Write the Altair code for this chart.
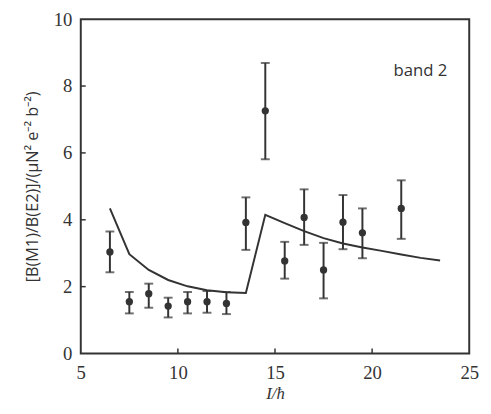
import altair as alt
import pandas as pd

# experimental points
spin = [6.5, 7.5, 8.5, 9.5, 10.5, 11.5, 12.5, 13.5, 14.5, 15.5, 16.5, 17.5, 18.5, 19.5, 21.5]
ratio = [3.04, 1.55, 1.79, 1.42, 1.55, 1.55, 1.50, 3.92, 7.26, 2.77, 4.07, 2.50, 3.93, 3.61, 4.34]
err_hi = [3.65, 1.84, 2.09, 1.67, 1.84, 1.87, 1.84, 4.67, 8.69, 3.34, 4.91, 3.31, 4.74, 4.34, 5.18]
err_lo = [2.43, 1.20, 1.37, 1.08, 1.20, 1.22, 1.18, 3.10, 5.81, 2.24, 3.25, 1.65, 3.12, 2.85, 3.43]

# theoretical curve
th_spin = [6.5, 7.5, 8.5, 9.5, 10.5, 11.5, 12.5, 13.5, 14.5, 15.5, 16.5, 17.5, 18.5, 19.5, 20.5, 21.5, 22.5, 23.5]
th_ratio = [4.34, 2.97, 2.50, 2.20, 2.01, 1.89, 1.83, 1.81, 4.15, 3.90, 3.66, 3.45, 3.29, 3.17, 3.07, 2.96, 2.86, 2.78]

x_ticks = [10, 15, 20]
y_ticks = [2, 4, 6, 8]
label_text = ["band 2"]
label_x = [21.1]
label_y = [8.3]

W, H = 395, 340
ink = "#333333"
serif = "Times New Roman, Liberation Serif, serif"

pts = pd.DataFrame({"I": spin, "r": ratio, "hi": err_hi, "lo": err_lo})
th = pd.DataFrame({"I": th_spin, "r": th_ratio})
xt = pd.DataFrame({"v": x_ticks})
yt = pd.DataFrame({"v": y_ticks})
lab = pd.DataFrame({"t": label_text, "x": label_x, "y": label_y})

xs = alt.Scale(domain=[5, 25], nice=False, zero=False)
ys = alt.Scale(domain=[0, 10], nice=False, zero=False)

xaxis = alt.Axis(values=[5, 10, 15, 20, 25], title="I/ħ", domain=False, ticks=False,
                 grid=False, labelFont=serif, labelFontSize=19,
                 labelColor=ink, labelPadding=10, titleFont=serif,
                 titleFontStyle="italic", titleFontWeight="normal", titleFontSize=17,
                 titleColor=ink, titlePadding=4, labelFlush=False)
yaxis = alt.Axis(values=[0, 2, 4, 6, 8, 10], title="[B(M1)/B(E2)]/(μN² e⁻² b⁻²)",
                 domain=False, ticks=False, grid=False, labelFont=serif,
                 labelFontSize=19, labelColor=ink, labelPadding=9,
                 titleFont="Open Sans", titleFontWeight="normal", titleFontSize=16.5,
                 titleColor=ink, titlePadding=13, labelFlush=False)

line = alt.Chart(th).mark_line(color=ink, strokeWidth=2).encode(
    x=alt.X("I:Q", scale=xs, axis=xaxis), y=alt.Y("r:Q", scale=ys, axis=yaxis))

bars = alt.Chart(pts).mark_rule(color=ink, strokeWidth=2).encode(
    x=alt.X("I:Q", scale=xs), y=alt.Y("lo:Q", scale=ys), y2="hi:Q")
cap_hi = alt.Chart(pts).mark_tick(color=ink, orient="horizontal", size=9, thickness=2).encode(
    x=alt.X("I:Q", scale=xs), y=alt.Y("hi:Q", scale=ys))
cap_lo = alt.Chart(pts).mark_tick(color=ink, orient="horizontal", size=9, thickness=2).encode(
    x=alt.X("I:Q", scale=xs), y=alt.Y("lo:Q", scale=ys))
dots = alt.Chart(pts).mark_point(filled=True, color=ink, size=55, opacity=1).encode(
    x=alt.X("I:Q", scale=xs), y=alt.Y("r:Q", scale=ys))

xtick = alt.Chart(xt).mark_rule(color=ink, strokeWidth=1.5).encode(
    x=alt.X("v:Q", scale=xs), y=alt.value(H), y2=alt.value(H - 5))
ytick = alt.Chart(yt).mark_rule(color=ink, strokeWidth=1.5).encode(
    y=alt.Y("v:Q", scale=ys), x=alt.value(0), x2=alt.value(5))

text = alt.Chart(lab).mark_text(align="left", baseline="alphabetic", font="Open Sans",
                                fontSize=17, color=ink).encode(
    x=alt.X("x:Q", scale=xs), y=alt.Y("y:Q", scale=ys), text="t:N")

chart = alt.layer(line, bars, cap_hi, cap_lo, dots, xtick, ytick, text).properties(
    width=W, height=H,
    autosize=alt.AutoSizeParams(type="none"),
    padding={"left": 74, "top": 8, "right": 14, "bottom": 50},
).configure(background="white").configure_view(stroke=ink, strokeWidth=2)

chart.save("out.html", embed_options={"renderer": "svg", "actions": False})
